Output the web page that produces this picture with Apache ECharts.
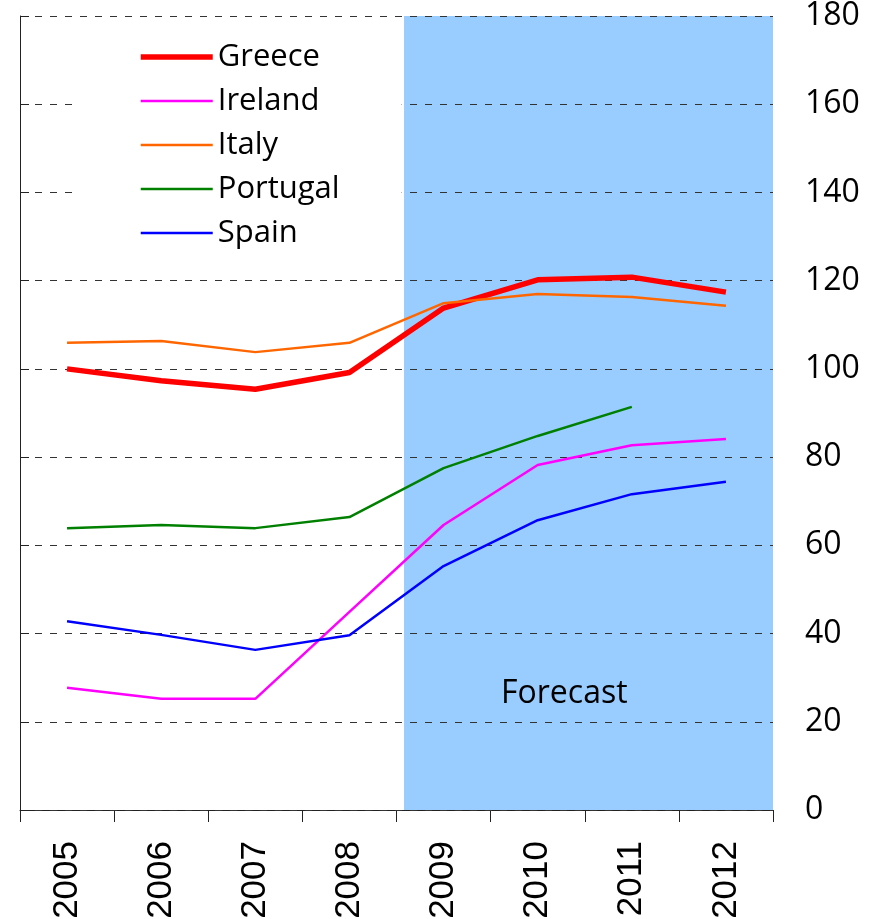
<!DOCTYPE html>
<html>
<head>
<meta charset="utf-8">
<script src="https://cdn.jsdelivr.net/npm/echarts@6/dist/echarts.min.js"></script>
<style>
  html, body { margin: 0; padding: 0; background: #fff; }
  #chart { width: 884px; height: 919px; }
</style>
</head>
<body>
<div id="chart"></div>
<script>
// data
var years = ['2005', '2006', '2007', '2008', '2009', '2010', '2011', '2012'];
var greece = [100, 97.3, 95.4, 99.2, 113.8, 120.2, 120.8, 117.4];
var ireland = [27.7, 25.2, 25.2, 44.9, 64.6, 78.2, 82.7, 84.1];
var italy = [105.9, 106.3, 103.8, 105.9, 114.9, 117.0, 116.3, 114.3];
var portugal = [63.9, 64.6, 63.9, 66.4, 77.5, 84.8, 91.4, null];
var spain = [42.8, 39.7, 36.3, 39.6, 55.3, 65.7, 71.6, 74.4];
// forecast band, in category units (0..8)
var forecastFrom = 4.08;
var forecastTo = 8;

var chart = echarts.init(document.getElementById('chart'));

function lineSeries(name, data, color, width) {
    return {
        name: name,
        type: 'line',
        data: data,
        symbol: 'none',
        z: 3,
        lineStyle: { color: color, width: width },
        itemStyle: { color: color },
        connectNulls: false
    };
}

var option = {
    animation: false,
    grid: { left: 20, right: 111, top: 16, bottom: 109, outerBoundsMode: 'none', containLabel: false },
    legend: {
        orient: 'vertical',
        left: 75,
        top: 36,
        padding: [4, 62, 6, 63],
        backgroundColor: '#fff',
        itemWidth: 72,
        itemHeight: 1,
        itemGap: 10,
        z: 10,
        itemStyle: { opacity: 0 },
        lineStyle: { width: 'inherit' },
        textStyle: { fontFamily: 'Open Sans', fontSize: 31, color: '#000', lineHeight: 34 },
        data: ['Greece', 'Ireland', 'Italy', 'Portugal', 'Spain']
    },
    xAxis: [{
        type: 'category',
        data: years,
        boundaryGap: true,
        axisLine: { lineStyle: { color: '#222', width: 1 } },
        axisTick: { show: true, length: 12, lineStyle: { color: '#222' } },
        axisLabel: {
            rotate: 90,
            margin: 31,
            fontFamily: 'Liberation Sans',
            fontSize: 35,
            color: '#000'
        },
        splitLine: { show: false }
    }, {
        type: 'value',
        min: 0,
        max: 8,
        show: false
    }],
    yAxis: {
        type: 'value',
        position: 'right',
        min: 0,
        max: 180,
        interval: 20,
        z: 2,
        axisLine: { show: true, lineStyle: { color: '#222', width: 1 } },
        axisTick: { show: true, length: 9, lineStyle: { color: '#222' } },
        axisLabel: { margin: 32, fontFamily: 'Open Sans', fontSize: 32, color: '#000' },
        splitLine: { show: true, lineStyle: { color: '#333', width: 1, type: [7, 8] } }
    },
    graphic: [{
        type: 'text',
        left: 501,
        top: 678,
        style: { text: 'Forecast', fontFamily: 'Open Sans', fontSize: 32, fill: '#000' },
        z: 5
    }],
    series: [
        {
            name: 'forecast',
            type: 'line',
            xAxisIndex: 1,
            data: [],
            z: 0,
            markArea: {
                silent: true,
                z: 0,
                itemStyle: { color: '#99CCFF', opacity: 1 },
                data: [[{ xAxis: forecastFrom }, { xAxis: forecastTo }]]
            }
        },
        lineSeries('Greece', greece, '#FF0000', 5.5),
        lineSeries('Ireland', ireland, '#FF00FF', 2.5),
        lineSeries('Italy', italy, '#FF6600', 2.5),
        lineSeries('Portugal', portugal, '#008000', 2.5),
        lineSeries('Spain', spain, '#0000FF', 2.5)
    ]
};

chart.setOption(option);
</script>
</body>
</html>
